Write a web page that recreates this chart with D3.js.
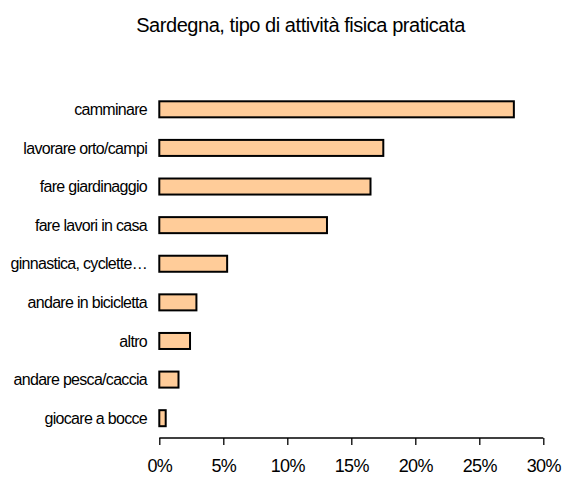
<!DOCTYPE html>
<html>
<head>
<meta charset="utf-8">
<script src="https://cdn.jsdelivr.net/npm/d3@7"></script>
<style>
  html, body { margin: 0; padding: 0; background: #fff; }
  text { font-family: "Liberation Sans", Arial, sans-serif; fill: #000; }
</style>
</head>
<body>
<script>
const title = "Sardegna, tipo di attività fisica praticata";
const categories = ["camminare", "lavorare orto/campi", "fare giardinaggio", "fare lavori in casa",
  "ginnastica, cyclette…", "andare in bicicletta", "altro", "andare pesca/caccia", "giocare a bocce"];
const values = [27.7, 17.5, 16.5, 13.1, 5.3, 2.9, 2.4, 1.5, 0.5];
const tickValues = [0, 5, 10, 15, 20, 25, 30];

const W = 566, H = 477;
const svg = d3.select("body").append("svg").attr("width", W).attr("height", H);

const x = d3.scaleLinear().domain([0, 30]).range([159.3, 543.3]);
const y = d3.scaleBand().domain(categories).range([90, 437.5]).paddingInner(0.585).paddingOuter(0.2925);

svg.append("text")
  .attr("x", 300.5).attr("y", 32)
  .attr("text-anchor", "middle")
  .style("font-size", "20px").style("letter-spacing", "-0.45px")
  .text(title);

svg.append("g").selectAll("rect").data(values).join("rect")
  .attr("x", x(0))
  .attr("y", (d, i) => y(categories[i]))
  .attr("width", d => x(d) - x(0))
  .attr("height", y.bandwidth())
  .attr("fill", "#FFCC99")
  .attr("stroke", "#000")
  .attr("stroke-width", 2);

svg.append("g").selectAll("text").data(categories).join("text")
  .attr("x", 147)
  .attr("y", d => y(d) + y.bandwidth() / 2)
  .attr("dy", "0.35em")
  .attr("text-anchor", "end")
  .style("font-size", "16px").style("letter-spacing", "-0.7px")
  .text(d => d);

const xAxis = d3.axisBottom(x).tickValues(tickValues).tickSize(7).tickPadding(15)
  .tickFormat(d => d + "%");
const gx = svg.append("g").attr("transform", "translate(0,438)").call(xAxis);
gx.select(".domain").attr("stroke", "#000").attr("stroke-width", 1.3).attr("d", `M${x(0)},0H${x(30)}`);
gx.selectAll(".tick line").attr("stroke", "#000").attr("stroke-width", 1.3);
gx.selectAll(".tick text")
  .attr("dy", null).attr("y", 34)
  .style("font-size", "18px").style("letter-spacing", "-0.6px")
  .style("font-family", "'Liberation Sans', Arial, sans-serif")
  .attr("fill", "#000");
</script>
</body>
</html>
